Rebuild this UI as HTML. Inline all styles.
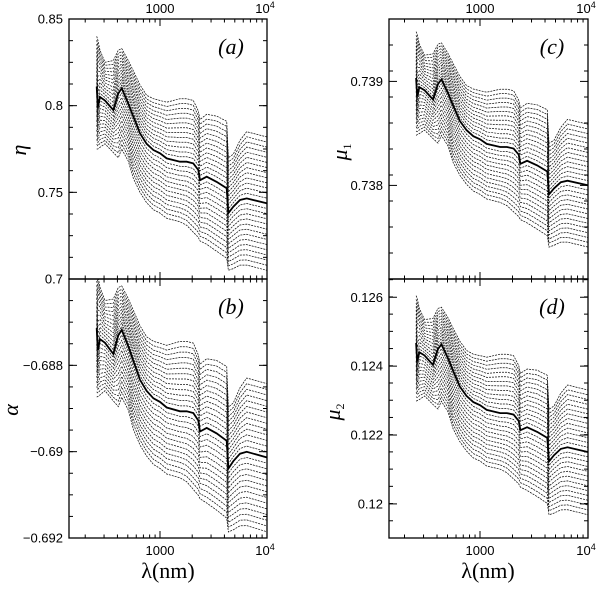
<!DOCTYPE html>
<html><head><meta charset="utf-8"><style>
body{margin:0;background:#fff}
</style></head><body>
<svg id="fig" width="600" height="588" viewBox="0 0 600 588" xmlns="http://www.w3.org/2000/svg" style="font-family:'Liberation Sans',sans-serif"></svg>
<script>
const lambdas=[256,262,275,306,366,408,439,506,564,650,750,867,1000,1154,1538,1775,2048,2280,2365,2731,3388,4200,4355,4842,5594,6457,9930];
const etaCenter=[0.811,0.799,0.805,0.803,0.7975,0.807,0.810,0.801,0.7936,0.784,0.778,0.7744,0.7725,0.7696,0.7677,0.7677,0.7667,0.7629,0.757,0.759,0.756,0.7523,0.738,0.7417,0.7456,0.7465,0.7437];
const etaUp=[.029,.039,.027,.022,.0285,.025,.023,.025,.0264,.028,.028,.0296,.0305,.0324,.0363,.0363,.0363,.0341,.035,.036,.038,.0387,.032,.0303,.0344,.0385,.0383];
const etaDown=[.036,.024,.029,.025,.0245,.037,.035,.033,.0356,.034,.034,.0344,.0345,.0346,.0347,.0367,.0397,.0389,.035,.039,.040,.0403,.033,.0357,.0376,.0385,.0387];
const alphaCenter=[-0.687137,-0.687652,-0.687395,-0.687478,-0.687735,-0.687307,-0.687179,-0.687564,-0.687907,-0.688335,-0.688590,-0.688764,-0.688847,-0.688977,-0.689065,-0.689065,-0.689104,-0.689278,-0.689533,-0.689449,-0.689577,-0.689748,-0.690390,-0.690221,-0.690047,-0.690003,-0.690133];
const alphaUp=[.00129,.00174,.00120,.00098,.00127,.00111,.00102,.00111,.00118,.00125,.00125,.00132,.00136,.00144,.00162,.00162,.00162,.00152,.00156,.00160,.00169,.00172,.00142,.00135,.00153,.00171,.00171];
const alphaDown=[.00160,.00107,.00129,.00111,.00109,.00165,.00156,.00147,.00158,.00151,.00151,.00153,.00154,.00154,.00154,.00163,.00177,.00173,.00156,.00174,.00178,.00179,.00147,.00159,.00167,.00171,.00172];
const mu1Center=[0.739033,0.738856,0.738944,0.738915,0.738827,0.738974,0.739018,0.738886,0.738767,0.738620,0.738532,0.738473,0.738443,0.738399,0.738369,0.738369,0.738355,0.738296,0.738208,0.738237,0.738192,0.738134,0.737913,0.737971,0.738031,0.738045,0.738001];
const mu1Up=[.000445,.000598,.000414,.000337,.000437,.000383,.000353,.000383,.000405,.000429,.000429,.000454,.000468,.000497,.000556,.000556,.000556,.000523,.000537,.000552,.000583,.000593,.000491,.000464,.000527,.000590,.000587];
const mu1Down=[.000552,.000368,.000445,.000383,.000376,.000567,.000537,.000506,.000546,.000521,.000521,.000527,.000529,.000530,.000532,.000563,.000609,.000596,.000537,.000598,.000613,.000618,.000506,.000547,.000576,.000590,.000593];
const mu2Center=[0.124675,0.124130,0.124402,0.124313,0.124040,0.124495,0.124631,0.124223,0.123860,0.123408,0.123136,0.122956,0.122866,0.122730,0.122637,0.122637,0.122594,0.122411,0.122139,0.122228,0.122092,0.121915,0.121234,0.121414,0.121597,0.121643,0.121507];
const mu2Up=[.00137,.00184,.00127,.00104,.00134,.00118,.00108,.00118,.00124,.00132,.00132,.00139,.00144,.00153,.00171,.00171,.00171,.00161,.00165,.00169,.00179,.00182,.00151,.00143,.00162,.00181,.00180];
const mu2Down=[.00169,.00113,.00137,.00118,.00115,.00174,.00165,.00155,.00168,.00160,.00160,.00162,.00162,.00163,.00163,.00173,.00187,.00183,.00165,.00184,.00188,.00190,.00155,.00168,.00177,.00181,.00182];
const xMajorTicks=[1000,10000];
const xMinorTicks=[200,300,400,500,600,700,800,900,2000,3000,4000,5000,6000,7000,8000,9000];
const etaTicks=[0.7,0.75,0.8,0.85], etaTickLabels=["0.7","0.75","0.8","0.85"];
const alphaTicks=[-0.692,-0.69,-0.688], alphaTickLabels=["\u22120.692","\u22120.69","\u22120.688"];
const mu1Ticks=[0.738,0.739], mu1TickLabels=["0.738","0.739"];
const mu2Ticks=[0.12,0.122,0.124,0.126], mu2TickLabels=["0.12","0.122","0.124","0.126"];

const NS="http://www.w3.org/2000/svg";
const svg=document.getElementById('fig');
function mk(tag,attrs,parent,txt){const e=document.createElementNS(NS,tag);for(const k in attrs)e.setAttribute(k,attrs[k]);if(txt!==undefined)e.textContent=txt;(parent||svg).appendChild(e);return e;}
const SERIF="font-family:'Liberation Serif',serif";

function panel(o){
  const g=mk('g',{});
  
  
  const xs=l=>o.x1000+Math.log10(l/1000)*o.dec;
  const ys=v=>o.y0+(o.vmax-v)/(o.vmax-o.vmin)*(o.y1-o.y0);
  const clip='c'+o.name;
  const cp=mk('clipPath',{id:clip},g);mk('rect',{x:o.x0,y:o.y0,width:o.x1-o.x0,height:o.y1-o.y0},cp);
  const band=mk('g',{'clip-path':'url(#'+clip+')'},g);
  
  
  const N=13;
  for(let k=-N;k<=N;k++){
    if(k===0)continue;
    const pts=lambdas.map((l,i)=>{const off=k>0?k/N*o.up[i]:k/N*o.down[i];return xs(l).toFixed(1)+','+ys(o.center[i]+off).toFixed(1);}).join(' ');
    const pl=mk('polyline',{points:pts,fill:'none',stroke:'#111','stroke-width':0.75,'stroke-dasharray':'2 1'},band);
    
    
  }
  const cpts=lambdas.map((l,i)=>xs(l).toFixed(1)+','+ys(o.center[i]).toFixed(1)).join(' ');
  const cl=mk('polyline',{points:cpts,fill:'none',stroke:'#000','stroke-width':1.8},band);
  
  
  const fr=mk('rect',{x:o.x0,y:o.y0,width:o.x1-o.x0,height:o.y1-o.y0,fill:'none',stroke:'#000','stroke-width':1.3},g);
  
  
  const tk=mk('g',{stroke:'#000','stroke-width':1},g);
  
  
  xMajorTicks.forEach(l=>{const x=xs(l);mk('line',{x1:x,x2:x,y1:o.y0,y2:o.y0+7},tk);mk('line',{x1:x,x2:x,y1:o.y1,y2:o.y1-7},tk);});
  xMinorTicks.forEach(l=>{const x=xs(l);mk('line',{x1:x,x2:x,y1:o.y0,y2:o.y0+3.5},tk);mk('line',{x1:x,x2:x,y1:o.y1,y2:o.y1-3.5},tk);});
  for(let v=o.vmin;v<=o.vmax+1e-12;v+=o.minor){const y=ys(v);mk('line',{x1:o.x0,x2:o.x0+4,y1:y,y2:y},tk);mk('line',{x1:o.x1,x2:o.x1-4,y1:y,y2:y},tk);}
  o.ticks.forEach((v,i)=>{const y=ys(v);mk('line',{x1:o.x0,x2:o.x0+8,y1:y,y2:y},tk);mk('line',{x1:o.x1,x2:o.x1-8,y1:y,y2:y},tk);
    const t=mk('text',{x:o.x0-6,y:y+4.5,'text-anchor':'end','font-size':13},g,o.tickLabels[i]);
    
    
  });
  if(o.xlabels){
    const ly=o.xlabels==='top'?o.y0-6:o.y1+17;
    const t1=mk('text',{x:xs(1000),y:ly,'text-anchor':'middle','font-size':13},g,'1000');
    
    
    const t2=mk('text',{x:xs(10000)-2,y:ly,'text-anchor':'middle','font-size':13},g);
    
    
    mk('tspan',{},t2,'10');mk('tspan',{'font-size':9,dy:-5},t2,'4');
  }
  const pl=mk('text',{x:o.x1-36,y:o.y0+35,'text-anchor':'middle','font-size':22,'font-style':'italic',style:SERIF},g,o.label);
  
  
}
panel({name:'panel-a',x0:69,x1:267,y0:19,y1:279,x1000:160,dec:107,vmin:0.7,vmax:0.85,minor:0.0125,center:etaCenter,up:etaUp,down:etaDown,ticks:etaTicks,tickLabels:etaTickLabels,xlabels:'top',label:'(a)'});
panel({name:'panel-b',x0:69,x1:267,y0:279,y1:538,x1000:160,dec:107,vmin:-0.692,vmax:-0.686,minor:0.0005,center:alphaCenter,up:alphaUp,down:alphaDown,ticks:alphaTicks,tickLabels:alphaTickLabels,xlabels:'bottom',label:'(b)'});
panel({name:'panel-c',x0:389,x1:588,y0:19,y1:279,x1000:480,dec:108,vmin:0.73710,vmax:0.73960,minor:0.00025,center:mu1Center,up:mu1Up,down:mu1Down,ticks:mu1Ticks,tickLabels:mu1TickLabels,xlabels:'top',label:'(c)'});
panel({name:'panel-d',x0:389,x1:588,y0:279,y1:538,x1000:480,dec:108,vmin:0.11901,vmax:0.12653,minor:0.0005,center:mu2Center,up:mu2Up,down:mu2Down,ticks:mu2Ticks,tickLabels:mu2TickLabels,xlabels:'bottom',label:'(d)'});

function title(x,y,txt,name,rot,sub){
  const t=mk('text',{x:x,y:y,'text-anchor':'middle','font-size':22,style:SERIF,transform:rot?'rotate(-90 '+x+' '+y+')':''},svg);
  
  
  mk('tspan',{'font-style':rot?'italic':'normal'},t,txt);
  if(sub){mk('tspan',{'font-size':12,dy:4},t,sub);}
}
title(26,150,'\u03b7','y-axis-title-eta',true);
title(18,410,'\u03b1','y-axis-title-alpha',true);
title(347,152,'\u03bc','y-axis-title-mu1',true,'1');
title(340,412,'\u03bc','y-axis-title-mu2',true,'2');
title(168,578,'\u03bb(nm)','x-axis-title-left',false);
title(488,578,'\u03bb(nm)','x-axis-title-right',false);
</script>
</body></html>
